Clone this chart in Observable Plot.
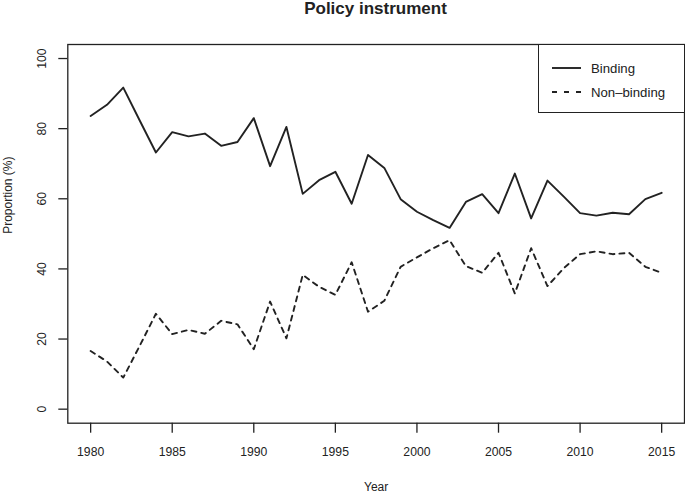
<!DOCTYPE html>
<html>
<head>
<meta charset="utf-8">
<script src="https://cdn.jsdelivr.net/npm/d3@7"></script>
<script src="https://cdn.jsdelivr.net/npm/@observablehq/plot@0.6"></script>
<style>
  body { margin: 0; background: #fff; font-family: "Liberation Sans", Arial, Helvetica, sans-serif; color: #222; }
  #wrap { position: relative; width: 685px; height: 493px; }
  #title { position: absolute; left: 67px; width: 617px; top: 0; height: 20px; line-height: 18px;
           text-align: center; font-weight: bold; font-size: 17px; }
  #chart { position: absolute; left: 0; top: 20px; }
  #legend { position: absolute; left: 538px; top: 44px; width: 144.5px; height: 66.5px;
            border: 1.3px solid #222; background: #fff; font-size: 13.2px; }
  .row { position: absolute; left: 0; height: 14px; display: flex; align-items: center; }
  .row svg { margin-left: 13px; }
  .row span { margin-left: 10px; }
</style>
</head>
<body>
<div id="wrap">
  <div id="title">Policy instrument</div>
  <div id="chart"></div>
  <div id="legend"></div>
</div>
<script>
const years = d3.range(1980, 2016);
const binding = [83.6, 86.8, 91.7, 82.4, 73.2, 79.0, 77.8, 78.6, 75.1, 76.2,
                 83.0, 69.3, 80.5, 61.4, 65.3, 67.7, 58.6, 72.5, 68.8, 59.9,
                 56.3, 53.9, 51.7, 59.1, 61.3, 55.9, 67.2, 54.4, 65.2, 60.6,
                 55.9, 55.2, 56.0, 55.6, 59.9, 61.7];
const nonBinding = [16.6, 13.6, 9.0, 18.0, 27.2, 21.4, 22.6, 21.5, 25.2, 24.2,
                    17.1, 30.7, 20.2, 38.3, 34.9, 32.6, 41.9, 27.8, 30.9, 40.6,
                    43.3, 45.9, 48.2, 40.8, 38.9, 44.6, 33.0, 45.9, 35.1, 40.2,
                    44.2, 45.0, 44.2, 44.6, 40.6, 38.9];
const seriesNames = ["Binding", "Non\u2013binding"];
const xTicks = [1980, 1985, 1990, 1995, 2000, 2005, 2010, 2015];
const yTicks = [0, 20, 40, 60, 80, 100];

const dataB = years.map((y, i) => ({year: y, value: binding[i]}));
const dataN = years.map((y, i) => ({year: y, value: nonBinding[i]}));

const ink = "#222";
const plot = Plot.plot({
  width: 685,
  height: 473,
  marginLeft: 67.3,
  marginRight: 1,
  marginTop: 24,
  marginBottom: 70.3,
  style: {fontFamily: "'Liberation Sans', Arial, Helvetica, sans-serif", fontSize: "12px", color: ink, background: "#fff"},
  x: {domain: [1980 - 1.4, 2015 + 1.4], label: null},
  y: {domain: [-4, 104], label: null},
  marks: [
    Plot.frame({stroke: ink, strokeWidth: 1.3}),
    Plot.axisX({ticks: xTicks, tickSize: 10, tickPadding: 14, tickFormat: d => String(d), stroke: ink, strokeWidth: 1.3, fontSize: 12.2, label: null}),
    Plot.axisY({ticks: yTicks, tickSize: 9, tickFormat: () => "", stroke: ink, strokeWidth: 1.3, label: null}),
    Plot.text(yTicks, {y: d => d, text: d => String(d), frameAnchor: "left", dx: -26, rotate: -90, fill: ink, fontSize: 12.2, textAnchor: "middle", lineAnchor: "middle"}),
    Plot.text(["Year"], {text: d => d, frameAnchor: "bottom", dy: 64, fill: ink, fontSize: 12, lineAnchor: "middle"}),
    Plot.text(["Proportion (%)"], {text: d => d, frameAnchor: "left", dx: -60, rotate: -90, fill: ink, fontSize: 12, lineAnchor: "middle"}),
    Plot.line(dataB, {x: "year", y: "value", stroke: ink, strokeWidth: 1.9}),
    Plot.line(dataN, {x: "year", y: "value", stroke: ink, strokeWidth: 1.9, strokeDasharray: "5,5"})
  ]
});
document.getElementById("chart").appendChild(plot);

// legend
const legend = document.getElementById("legend");
const dashes = [null, "5,7"];
const tops = [16, 40];
seriesNames.forEach((name, i) => {
  const row = document.createElement("div");
  row.className = "row";
  row.style.top = tops[i] + "px";
  row.innerHTML = `<svg width="29" height="4"><line x1="0" x2="29" y1="2" y2="2" stroke="${ink}" stroke-width="1.9" ${dashes[i] ? `stroke-dasharray="${dashes[i]}"` : ""}/></svg><span>${name}</span>`;
  legend.appendChild(row);
});
</script>
</body>
</html>
